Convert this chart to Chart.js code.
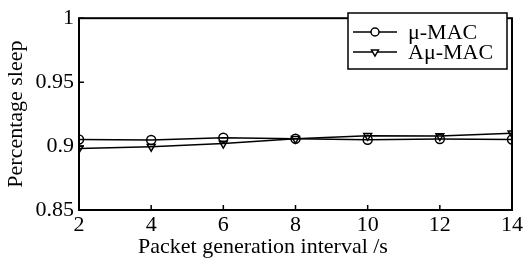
<!DOCTYPE html>
<html>
<head>
<meta charset="utf-8">
<script src="https://cdn.jsdelivr.net/npm/chart.js@4"></script>
<style>
  html, body { margin: 0; padding: 0; background: #fff; }
  #wrap { width: 525px; height: 262px; }
</style>
</head>
<body>
<div id="wrap"><canvas id="c" width="525" height="262"></canvas></div>
<script>
const intervals = [2, 4, 6, 8, 10, 12, 14]
const muMac = [0.9052, 0.9047, 0.9065, 0.9057, 0.9050, 0.9055, 0.9052]
const aMuMac = [0.8980, 0.8995, 0.9020, 0.9057, 0.9080, 0.9078, 0.9100]
const yTicks = [0.85, 0.9, 0.95, 1]
const xTicks = [2, 4, 6, 8, 10, 12, 14]
const seriesNames = ['\u03bc-MAC', 'A\u03bc-MAC']

const FONT = 'Liberation Serif'

// MATLAB style box, inward ticks, legend and x label
const boxPlugin = {
  id: 'box',
  afterDraw(chart) {
    const ctx = chart.ctx
    const a = chart.chartArea
    const xs = chart.scales.x
    const ys = chart.scales.y
    ctx.save()
    ctx.strokeStyle = '#000'
    ctx.lineWidth = 2
    ctx.strokeRect(a.left, a.top, a.right - a.left, a.bottom - a.top)
    ctx.lineWidth = 1.5
    ctx.beginPath()
    xTicks.forEach(v => {
      const px = xs.getPixelForValue(v)
      ctx.moveTo(px, a.bottom)
      ctx.lineTo(px, a.bottom - 5)
    })
    yTicks.forEach(v => {
      const py = ys.getPixelForValue(v)
      ctx.moveTo(a.left, py)
      ctx.lineTo(a.left + 5, py)
    })
    ctx.stroke()

    // x axis title
    ctx.fillStyle = '#000'
    ctx.font = '22px "' + FONT + '"'
    ctx.textAlign = 'center'
    ctx.textBaseline = 'alphabetic'
    ctx.fillText('Packet generation interval /s', 263, 253)

    // legend
    const lx = 348, ly = 13, lw = 159, lh = 56
    ctx.fillStyle = '#fff'
    ctx.fillRect(lx, ly, lw, lh)
    ctx.lineWidth = 1.5
    ctx.strokeStyle = '#000'
    ctx.strokeRect(lx, ly, lw, lh)
    chart.data.datasets.forEach((ds, i) => {
      const y = ly + 19 + i * 20
      ctx.lineWidth = 1.5
      ctx.beginPath()
      ctx.moveTo(lx + 5, y)
      ctx.lineTo(lx + 49, y)
      ctx.stroke()
      ctx.fillStyle = '#fff'
      Chart.helpers.drawPoint(ctx, {
        pointStyle: ds.pointStyle,
        radius: 4,
        rotation: ds.pointRotation || 0,
        borderWidth: 1.5
      }, lx + 27, y)
      ctx.fillStyle = '#000'
      ctx.font = '22px "' + FONT + '"'
      ctx.textAlign = 'left'
      ctx.textBaseline = 'middle'
      ctx.fillText(seriesNames[i], lx + 60, y + 1)
    })
    ctx.restore()
  }
}

new Chart(document.getElementById('c'), {
  type: 'line',
  data: {
    labels: intervals,
    datasets: [
      {
        label: seriesNames[0],
        data: intervals.map((x, i) => ({ x: x, y: muMac[i] })),
        borderColor: '#000',
        borderWidth: 1.5,
        pointStyle: 'circle',
        pointRadius: 4.5,
        pointBorderWidth: 1.5,
        pointBorderColor: '#000',
        pointBackgroundColor: 'rgba(0,0,0,0)',
        tension: 0
      },
      {
        label: seriesNames[1],
        data: intervals.map((x, i) => ({ x: x, y: aMuMac[i] })),
        borderColor: '#000',
        borderWidth: 1.5,
        pointStyle: 'triangle',
        pointRotation: 180,
        pointRadius: 4.5,
        pointBorderWidth: 1.5,
        pointBorderColor: '#000',
        pointBackgroundColor: 'rgba(0,0,0,0)',
        tension: 0
      }
    ]
  },
  options: {
    responsive: false,
    animation: false,
    events: [],
    layout: { padding: { top: 8, right: 13, bottom: 0, left: 0 } },
    plugins: {
      legend: { display: false },
      tooltip: { enabled: false }
    },
    scales: {
      x: {
        type: 'linear',
        min: 2,
        max: 14,
        afterBuildTicks: s => { s.ticks = xTicks.map(v => ({ value: v })) },
        afterFit: s => { s.height = 52 },
        grid: { display: false, drawTicks: false },
        border: { display: false },
        ticks: {
          color: '#000',
          padding: 2,
          maxRotation: 0,
          font: { family: FONT, size: 22 }
        }
      },
      y: {
        type: 'linear',
        min: 0.85,
        max: 1,
        afterBuildTicks: s => { s.ticks = yTicks.map(v => ({ value: v })) },
        afterFit: s => { s.width = 79 },
        grid: { display: false, drawTicks: false },
        border: { display: false },
        title: {
          display: true,
          text: 'Percentage sleep',
          color: '#000',
          font: { family: FONT, size: 22 },
          padding: { top: 3, bottom: 0 }
        },
        ticks: {
          color: '#000',
          padding: 5,
          font: { family: FONT, size: 22 },
          callback: v => String(Math.round(v * 100) / 100)
        }
      }
    }
  },
  plugins: [boxPlugin]
})
</script>
</body>
</html>
